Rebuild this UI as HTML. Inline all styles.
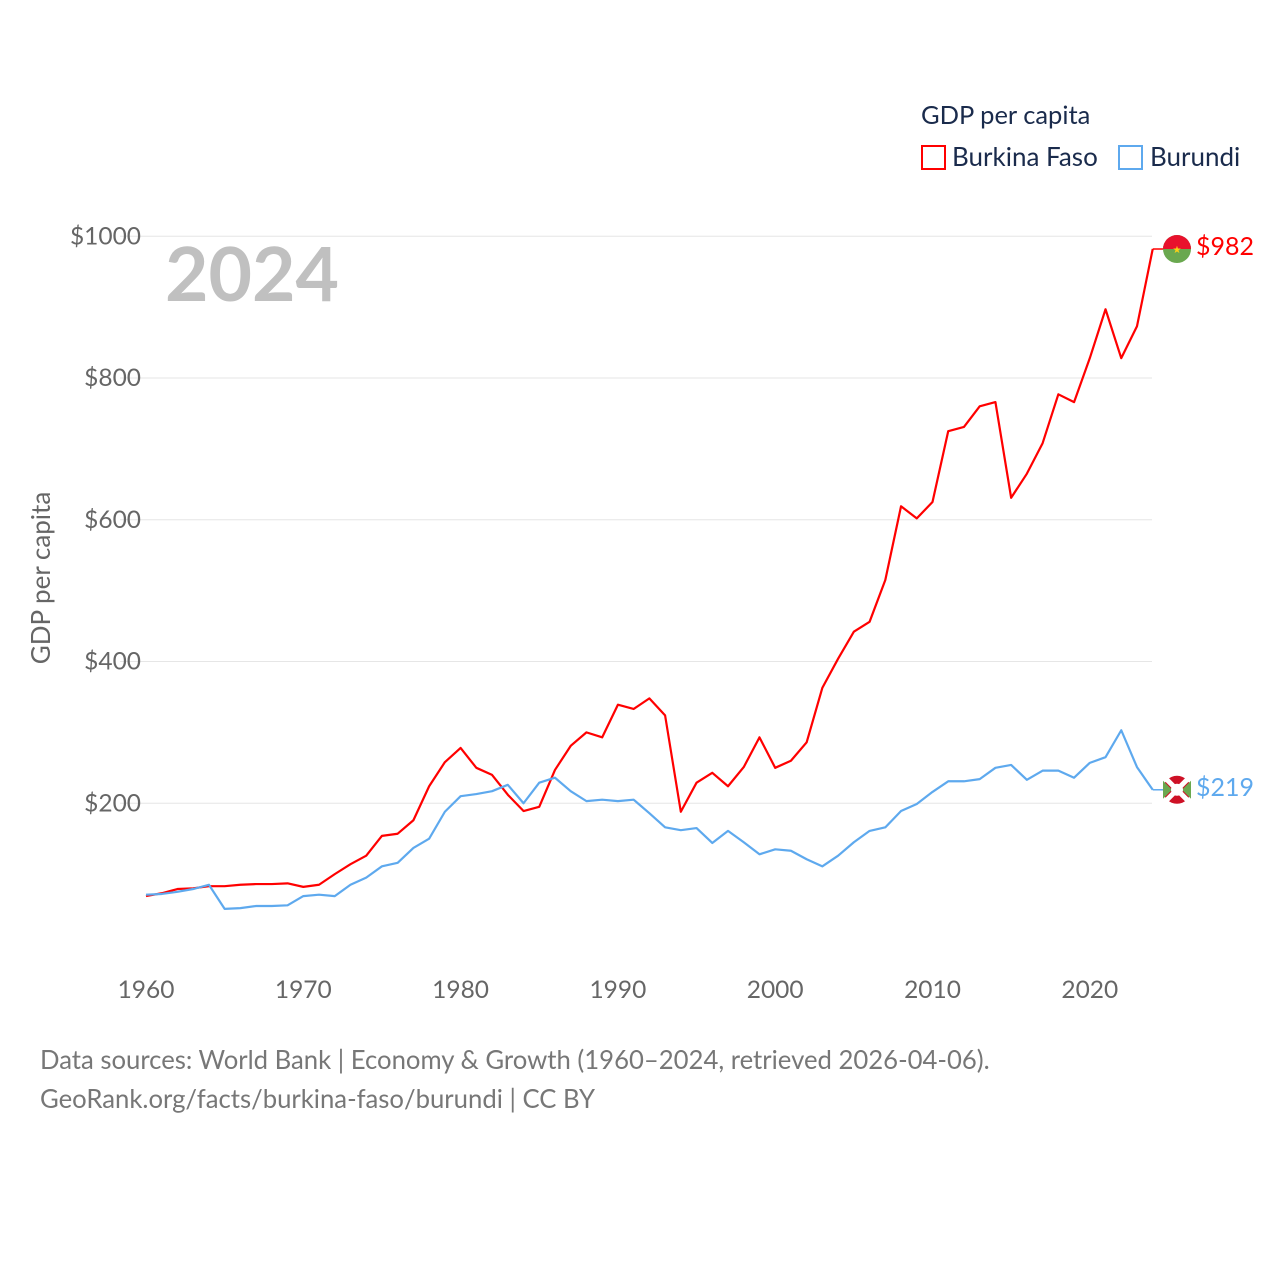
<!DOCTYPE html>
<html><head><meta charset="utf-8"><style>
body{margin:0;background:#fff;font-family:"Liberation Sans",sans-serif}
svg{display:block}
text{font-family:"Lato","Liberation Sans",sans-serif}
</style></head><body>
<svg id="c" width="1280" height="1280"></svg>
<script>
const years=[];for(let y=1960;y<=2024;y++)years.push(y);
const burkina=[69,73,79,80,83,83,85,86,86,87,82,85,100,114,126,154,157,176,224,258,278,250,240,212,189,195,247,281,300,293,339,333,348,324,188,229,243,224,251,293,250,260,286,363,404,442,456,515,619,602,625,725,731,760,766,631,665,708,777,766,828,897,828,873,982];
const burundi=[71,72,75,79,85,51,52,55,55,56,69,71,69,85,95,111,116,137,150,188,210,213,217,226,200,229,236,217,203,205,203,205,186,166,162,165,144,161,145,128,135,133,121,111,126,145,161,166,189,199,216,231,231,234,250,254,233,246,246,236,257,265,303,251,219];
const yTicks=[200,400,600,800,1000];
const xTicks=[1960,1970,1980,1990,2000,2010,2020];
const X=v=>146+(v-1960)*15.73;
const Y=v=>945-v*0.70875;
const svg=document.getElementById('c');const NS='http://www.w3.org/2000/svg';
function el(t,a,txt){const e=document.createElementNS(NS,t);for(const k in a)e.setAttribute(k,a[k]);if(txt!=null)e.textContent=txt;svg.appendChild(e);return e;}
yTicks.forEach(v=>{
 const g=el('line',{x1:120,x2:1152,y1:Y(v),y2:Y(v),stroke:'#e6e6e6','stroke-width':1});
 
 
 const t=el('text',{x:141,y:Y(v)+8,'text-anchor':'end','font-size':24.5,fill:'#666'},'$'+v);
 
 
});
xTicks.forEach(v=>{
 const t=el('text',{x:X(v),y:998,'text-anchor':'middle','font-size':24.5,fill:'#666'},v);
 
 
});
const yt=el('text',{x:0,y:0,transform:'translate(50,578) rotate(-90)','text-anchor':'middle','font-size':26,fill:'#666'},'GDP per capita');


const yr=el('text',{x:165,y:301,'font-size':75,'font-weight':'bold',fill:'#c0c0c0'},'2024');


function line(data,color,name){
 const p=el('polyline',{points:data.map((v,i)=>X(years[i])+','+Y(v)).join(' '),fill:'none',stroke:color,'stroke-width':2.2,'stroke-linejoin':'round'});
 
 
 const last=data[data.length-1];
 const c=el('line',{x1:X(2024),x2:1164,y1:Y(last),y2:Y(last),stroke:color,'stroke-width':1.5});
 
 
 const l=el('text',{x:1196,y:Y(last)+6,'font-size':25,fill:color},'$'+last);
 
 
 return Y(last);
}
const yb=line(burkina,'#ff0000','burkina-faso');
const yu=line(burundi,'#5ea9ee','burundi');
let f=el('circle',{cx:1177,cy:yb,r:14,fill:'#6aa84f'});


el('path',{d:`M1163 ${yb} A14 14 0 0 1 1191 ${yb} Z`,fill:'#e8112d'});
el('text',{x:1177,y:yb+4,'text-anchor':'middle','font-size':10,fill:'#fcd116'},'★');
f=el('circle',{cx:1177,cy:yu,r:14,fill:'#ce1126'});


el('path',{d:`M1163 ${yu-14} L1191 ${yu+14} M1191 ${yu-14} L1163 ${yu+14}`,stroke:'#fff','stroke-width':5});
el('path',{d:`M1163 ${yu-9} L1172 ${yu} L1163 ${yu+9}Z M1191 ${yu-9} L1182 ${yu} L1191 ${yu+9}Z`,fill:'#6aa84f'});
el('circle',{cx:1177,cy:yu,r:6,fill:'#fff'});
let t=el('text',{x:921,y:124,'font-size':25.5,fill:'#1a2b4c'},'GDP per capita');


let r=el('rect',{x:922,y:146,width:23,height:23,fill:'none',stroke:'#ff0000','stroke-width':2});


t=el('text',{x:952,y:166,'font-size':26,fill:'#1a2b4c'},'Burkina Faso');


r=el('rect',{x:1119,y:146,width:23,height:23,fill:'none',stroke:'#5ea9ee','stroke-width':2});


t=el('text',{x:1150,y:166,'font-size':26,fill:'#1a2b4c'},'Burundi');


t=el('text',{x:40,y:1069,'font-size':25.7,fill:'#777'},'Data sources: World Bank | Economy & Growth (1960–2024, retrieved 2026-04-06).');


t=el('text',{x:40,y:1108,'font-size':25.7,fill:'#777'},'GeoRank.org/facts/burkina-faso/burundi | CC BY');


</script>
</body></html>
